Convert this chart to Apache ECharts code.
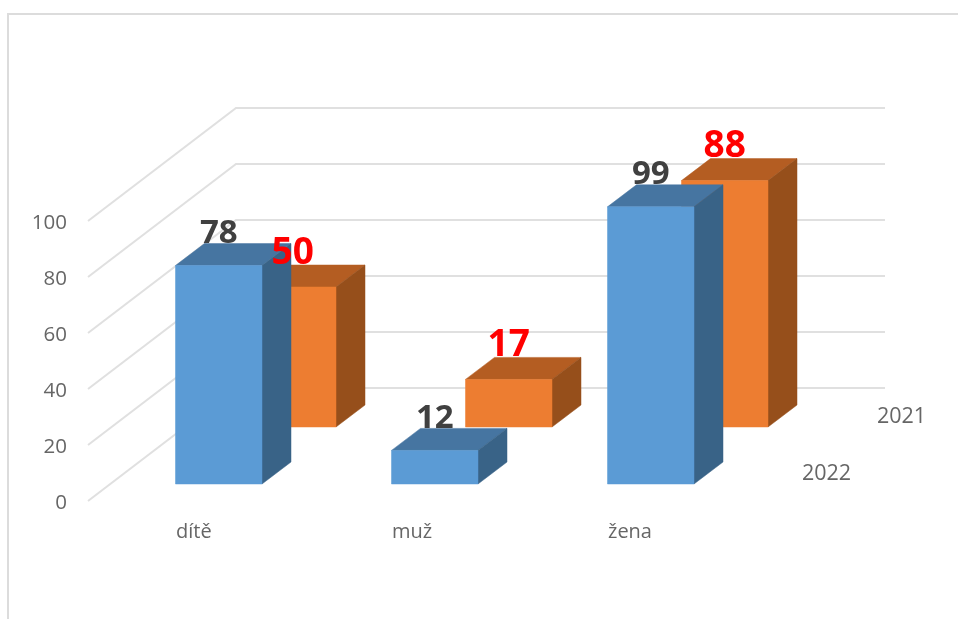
<!DOCTYPE html>
<html>
<head>
<meta charset="utf-8">
<style>html,body{margin:0;padding:0;background:#fff}#c{width:958px;height:619px}</style>
<script src="https://cdn.jsdelivr.net/npm/echarts@6/dist/echarts.min.js"></script>
</head>
<body>
<div id="c"></div>
<script>
const categories = ['dítě', 'muž', 'žena'];
const values2022 = [78, 12, 99];
const values2021 = [50, 17, 88];
const depthNames = ['2022', '2021'];
const yTicks = [0, 20, 40, 60, 80, 100];

const FONT = '"Open Sans","Noto Sans",sans-serif';
const BAR_W = 86.5, DX = 29, DY = 22;
const SHIFT = -2.5;
const BAR_OFF = { front: [0, -17 + SHIFT], back: [74, -74 + SHIFT] };

function barRenderer(off, c) {
  return function (params, api) {
    const p = api.coord([api.value(0), api.value(1)]);
    const b = api.coord([api.value(0), 0]);
    const x0 = p[0] - 0.5 + off[0], x1 = x0 + BAR_W;
    const yt = p[1] + off[1], yb = b[1] + off[1];
    const poly = (pts, fill) => ({ type: 'polygon', shape: { points: pts }, style: { fill: fill, stroke: fill, lineWidth: 0.5 } });
    return { type: 'group', children: [
      poly([[x0, yt], [x1, yt], [x1 + DX, yt - DY], [x0 + DX, yt - DY]], c.top),
      poly([[x1, yt], [x1 + DX, yt - DY], [x1 + DX, yb - DY], [x1, yb]], c.side),
      poly([[x0, yt], [x1, yt], [x1, yb], [x0, yb]], c.front)
    ]};
  };
}
function labelRenderer(off, lift, color, size) {
  return function (params, api) {
    const p = api.coord([api.value(0), api.value(1)]);
    return { type: 'text', style: {
      x: p[0] + off[0] + BAR_W / 2 - 0.5, y: p[1] + off[1] - lift,
      text: String(api.value(1)), fill: color, font: 'bold ' + size + 'px ' + FONT,
      align: 'center', verticalAlign: 'middle' } };
  };
}
const pairs = a => a.map((v, i) => [i, v]);

const option = {
  animation: false,
  backgroundColor: '#fff',
  grid: { left: 68, top: 223.5, width: 648, height: 280 },
  xAxis: { type: 'category', data: categories,
    axisLine: { show: false }, axisTick: { show: false }, splitLine: { show: false },
    axisLabel: { align: 'left', margin: 19, fontSize: 20, fontFamily: FONT, color: '#666' } },
  yAxis: { type: 'value', min: 0, max: 100, interval: 20,
    axisLine: { show: false }, axisTick: { show: false }, splitLine: { show: false },
    axisLabel: { margin: 1, fontSize: 20.5, fontFamily: FONT, color: '#666' } },
  graphic: [
    { type: 'polyline', silent: true, z: 0, shape: { points: [[8, 619], [8, 14], [958, 14]] },
      style: { stroke: '#dcdcdc', lineWidth: 2, fill: null } }
  ],
  series: [
    { type: 'custom', z: 1, silent: true, clip: false, data: yTicks.map(v => [0, v]),
      renderItem: (params, api) => {
        const y = api.coord([0, api.value(1)])[1] + SHIFT;
        const x = params.coordSys.x + 20;
        return { type: 'polyline', shape: { points: [[x, y], [x + 148, y - 113], [885, y - 113]] },
          style: { stroke: '#e0e0e0', lineWidth: 2, fill: null } };
      } },
    { type: 'custom', name: '2021', z: 3, silent: true, clip: false, data: pairs(values2021),
      renderItem: barRenderer(BAR_OFF.back, { front: '#ED7D31', top: '#B45D22', side: '#964F1B' }) },
    { type: 'custom', name: '2022', z: 4, silent: true, clip: false, data: pairs(values2022),
      renderItem: barRenderer(BAR_OFF.front, { front: '#5B9BD5', top: '#4675A1', side: '#396387' }) },
    { type: 'custom', z: 5, silent: true, clip: false, data: pairs(values2022),
      renderItem: labelRenderer(BAR_OFF.front, 32, '#404040', 33) },
    { type: 'custom', z: 5, silent: true, clip: false, data: pairs(values2021),
      renderItem: labelRenderer(BAR_OFF.back, 34, '#ff0000', 37) },
    { type: 'custom', z: 5, silent: true, clip: false, data: depthNames.map((n, i) => [categories.length - 1, 0, n, i]),
      renderItem: (params, api) => {
        const p = api.coord([api.value(0), 0]);
        const i = api.value(3);
        return { type: 'text', style: {
          x: p[0] + 218.5 + i * 75, y: p[1] + SHIFT - 27 - i * 57,
          text: depthNames[i], fill: '#666', font: '21.5px ' + FONT,
          align: 'center', verticalAlign: 'middle' } };
      } }
  ]
};
echarts.init(document.getElementById('c'), null, { renderer: 'canvas' }).setOption(option);
</script>
</body>
</html>
